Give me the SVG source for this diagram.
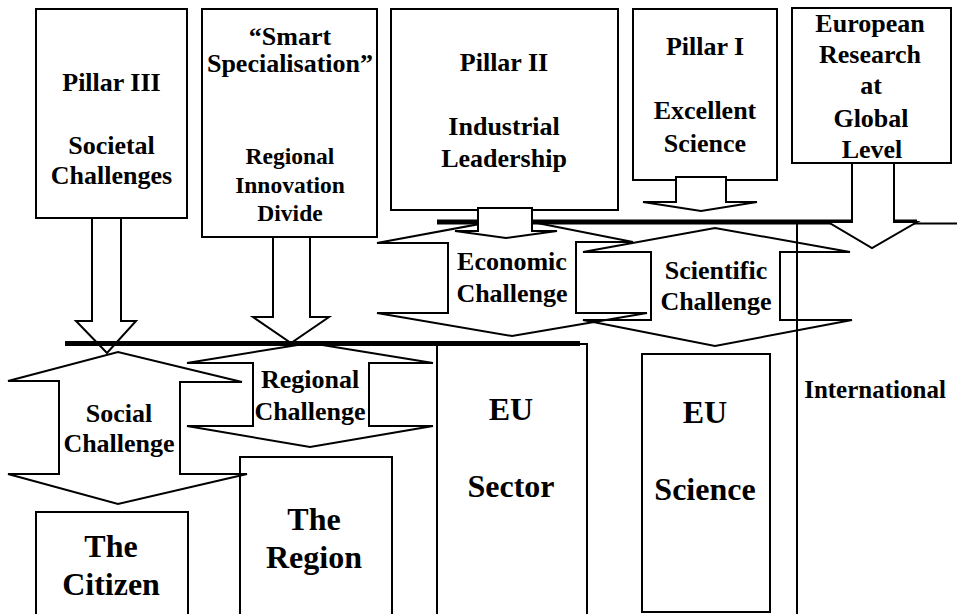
<svg xmlns="http://www.w3.org/2000/svg" width="957" height="614" viewBox="0 0 957 614">
<style>
  .box { fill: #ffffff; stroke: #000000; stroke-width: 2; }
  .ch { fill: none; stroke: #000000; stroke-width: 2; stroke-linejoin: miter; }
  .arr { fill: #ffffff; stroke: #000000; stroke-width: 2; stroke-linejoin: miter; }
  .bar { stroke: #000000; stroke-width: 5; fill: none; }
  .ln { stroke: #000000; stroke-width: 2; fill: none; }
  text { font-family: "Liberation Serif", "Times New Roman", serif; font-weight: bold; fill: #000000; text-anchor: middle; }
  .t26 { font-size: 26px; }
  .t23 { font-size: 23.5px; }
  .t32 { font-size: 32px; }
  .t25 { font-size: 25px; }
</style>
<rect x="0" y="0" width="957" height="614" fill="#ffffff"/>

<g id="pillar3">
  <rect class="box" x="36" y="9" width="151" height="209"/>
  <text class="t26" x="111.5" y="91">Pillar III</text>
  <text class="t26" x="111.5" y="154">Societal</text>
  <text class="t26" x="111.5" y="184">Challenges</text>
</g>
<g id="smart">
  <rect class="box" x="202" y="9" width="175" height="228"/>
  <text class="t26" x="290" y="45">“Smart</text>
  <text class="t26" x="290" y="72">Specialisation”</text>
  <text class="t23" x="290" y="164">Regional</text>
  <text class="t23" x="290" y="193">Innovation</text>
  <text class="t23" x="290" y="221">Divide</text>
</g>
<g id="pillar2">
  <rect class="box" x="391" y="9" width="227" height="201"/>
  <text class="t26" x="504" y="71">Pillar II</text>
  <text class="t26" x="504" y="135">Industrial</text>
  <text class="t26" x="504" y="167">Leadership</text>
</g>
<g id="pillar1">
  <rect class="box" x="633" y="9" width="144" height="171"/>
  <text class="t26" x="705" y="55">Pillar I</text>
  <text class="t26" x="705" y="119">Excellent</text>
  <text class="t26" x="705" y="152">Science</text>
</g>
<g id="european">
  <rect class="box" x="792" y="8" width="159" height="155"/>
  <text class="t26" x="870" y="32">European</text>
  <text class="t26" x="870" y="63">Research</text>
  <text class="t26" x="871" y="94">at</text>
  <text class="t26" x="871" y="127">Global</text>
  <text class="t26" x="872" y="158">Level</text>
</g>

<g id="citizen">
  <rect class="box" x="36" y="512" width="152" height="110"/>
  <text class="t32" x="111" y="557">The</text>
  <text class="t32" x="111" y="595">Citizen</text>
</g>
<g id="region">
  <rect class="box" x="240" y="457" width="152" height="165"/>
  <text class="t32" x="314" y="530">The</text>
  <text class="t32" x="314" y="568">Region</text>
</g>
<g id="eu-sector">
  <rect class="box" x="437" y="344" width="150" height="278"/>
  <text class="t32" x="511" y="420">EU</text>
  <text class="t32" x="511" y="497">Sector</text>
</g>
<g id="eu-science">
  <rect class="box" x="642" y="354" width="128" height="258"/>
  <text class="t32" x="705" y="423">EU</text>
  <text class="t32" x="705" y="500">Science</text>
</g>
<g id="international">
  <text class="t25" x="875" y="398">International</text>
</g>

<g id="social-challenge">
  <polygon class="ch" points="8,381 118,352 242,382 180,382 180,474 247,474 118,504 8,474 59,474 59,381"/>
  <text class="t26" x="119" y="422">Social</text>
  <text class="t26" x="119" y="452">Challenge</text>
</g>
<g id="regional-challenge">
  <polygon class="ch" points="187,363 310,343 433,363 369,363 369,426 433,426 310,447 187,426 253,426 253,363"/>
  <text class="t26" x="310" y="388">Regional</text>
  <text class="t26" x="310" y="420">Challenge</text>
</g>
<g id="economic-challenge">
  <polygon class="ch" points="377,243 512,218 633,242 576,242 576,313 647,313 512,336 377,313 448,313 448,243"/>
  <text class="t26" x="512" y="270">Economic</text>
  <text class="t26" x="512" y="302">Challenge</text>
</g>
<g id="scientific-challenge">
  <polygon class="ch" points="583,252 715,228 850,252 780,252 780,320 852,320 715,346 583,320 651,320 651,252"/>
  <text class="t26" x="716" y="279">Scientific</text>
  <text class="t26" x="716" y="310">Challenge</text>
</g>

<g id="connectors">
  <polygon class="arr" points="92,218 92,321 76,321 107,353 136,321 121,321 121,218"/>
  <polygon class="arr" points="273,237 273,317 253,317 291,343 329,317 310,317 310,237"/>
  <line class="bar" x1="65" y1="343.5" x2="580" y2="343.5"/>
  <line class="bar" x1="437" y1="222" x2="917" y2="222"/>
  <line class="ln" x1="917" y1="223.5" x2="957" y2="223.5"/>
  <line class="ln" x1="797" y1="222" x2="797" y2="614"/>
  <polygon class="arr" points="478,208 478,231 455,231 506,238 557,231 532,231 532,208"/>
  <polygon class="arr" points="676,177 676,202 643,202 701,211 757,202 726,202 726,177"/>
  <polygon class="arr" points="852,163 852,222 828,222 872,248 917,222 894,222 894,163"/>
</g>
</svg>
